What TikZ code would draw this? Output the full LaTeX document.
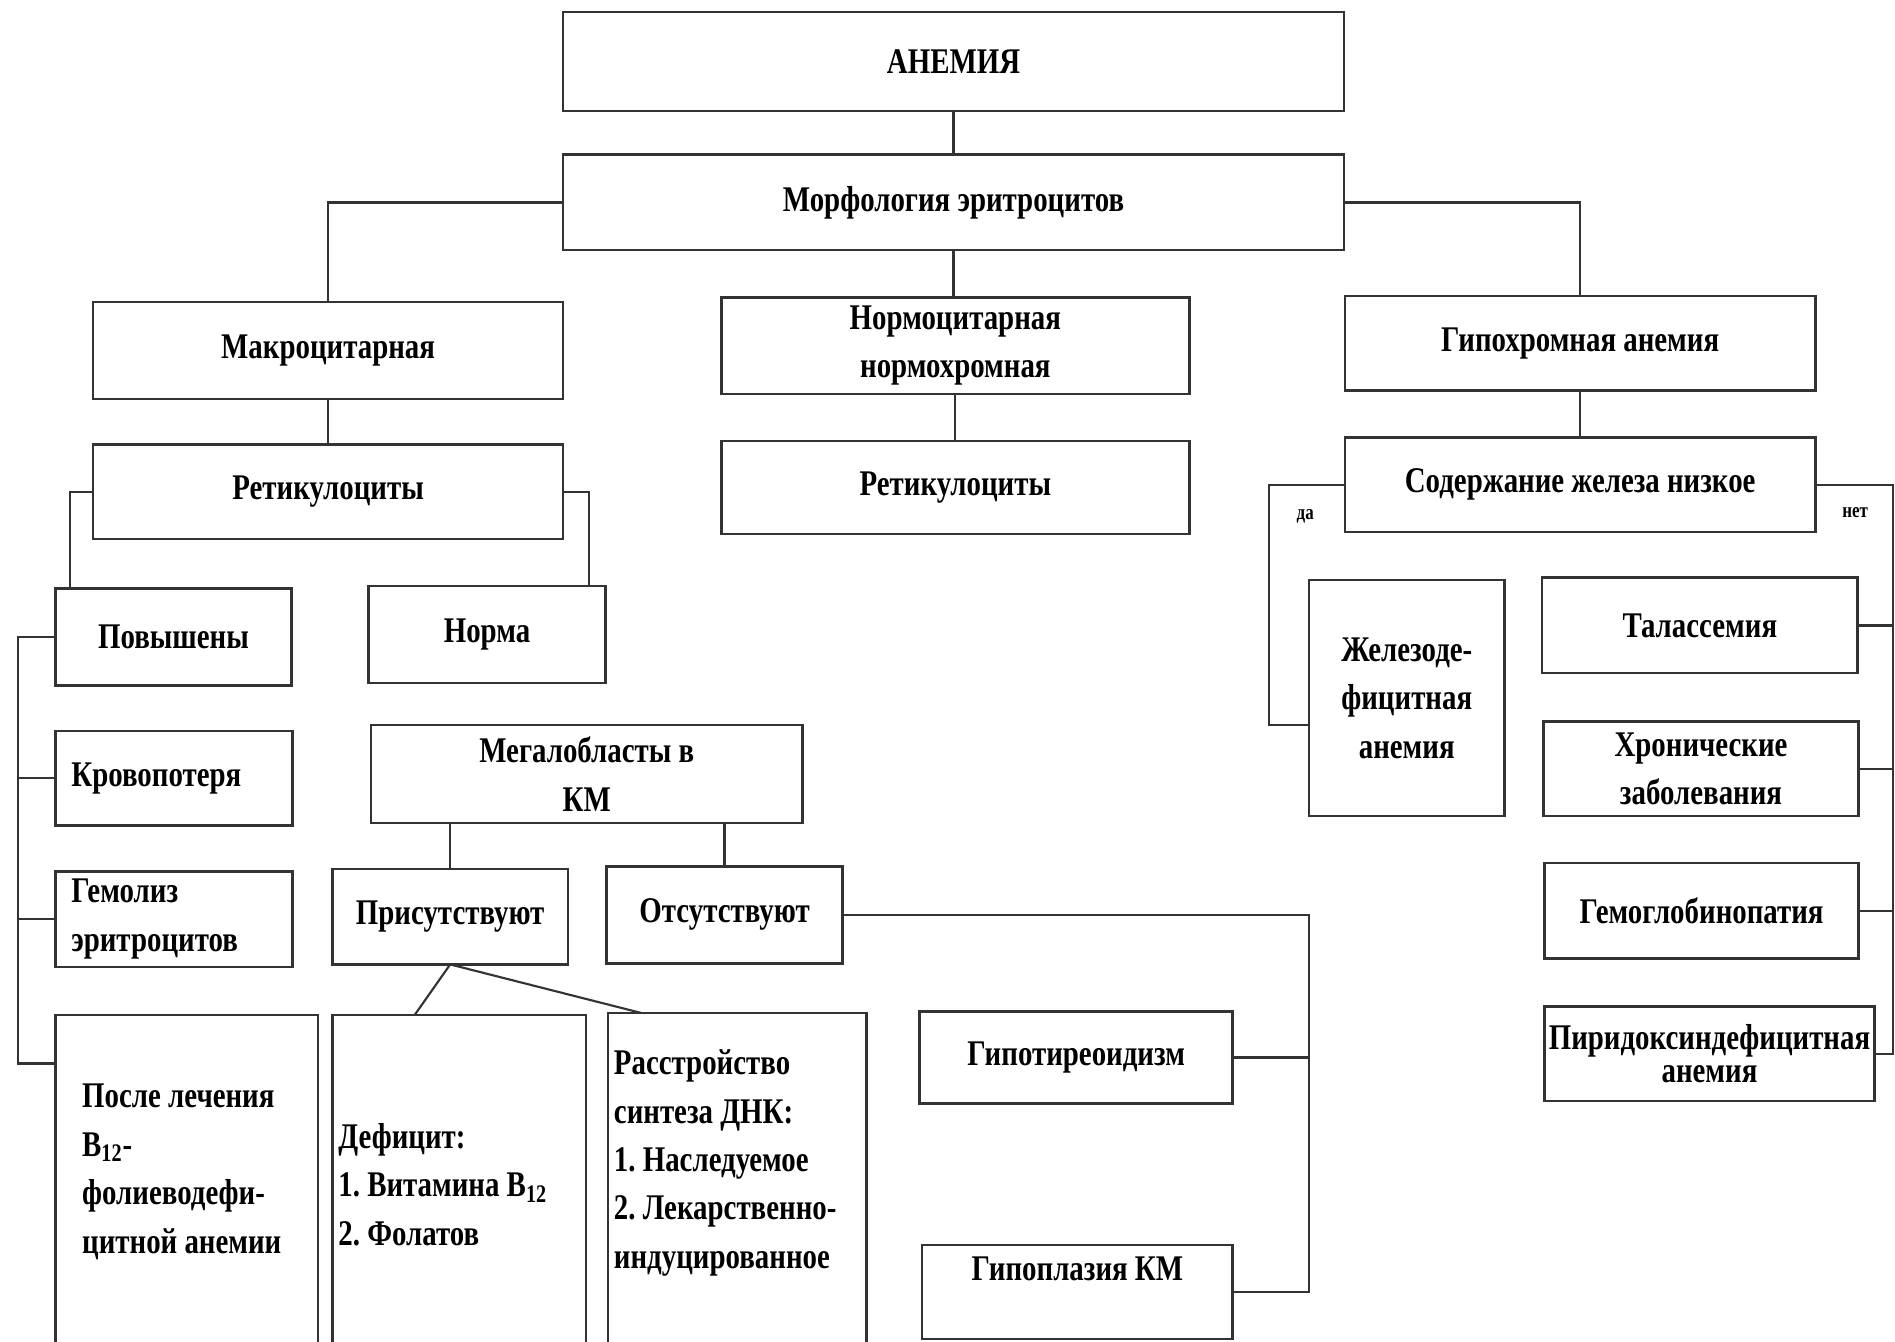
\documentclass[tikz,border=0pt]{standalone}
\usepackage{fontspec}
\setmainfont[FakeStretch=0.8]{Liberation Serif}
\usetikzlibrary{calc}
\begin{document}
\begin{tikzpicture}[x=0.02cm,y=-0.02cm,
  box/.style={draw=black!80, line width=1.2pt, inner sep=2pt, outer sep=0pt,
    anchor=north west, align=center, font=\fontsize{17}{22.8}\selectfont\bfseries\frenchspacing},
  wh/.style 2 args={minimum width=#1*0.02cm, minimum height=#2*0.02cm},
  con/.style={draw=black!80, line width=1pt},
  small/.style={font=\fontsize{10}{12}\selectfont\bfseries, inner sep=1pt}]
\useasboundingbox (0,0) rectangle (1568,1110);

% top level
\node[box, wh={646}{82}] (anem) at (466,10) {АНЕМИЯ};
\node[box, wh={646}{79}] (morf) at (466,128) {Морфология эритроцитов};

% second level
\node[box, wh={389}{80}] (makro) at (77,250) {Макроцитарная};
\node[box, wh={387}{80}] (normo) at (597,246) {Нормоцитарная\\нормохромная};
\node[box, wh={389}{78}] (gipo) at (1113,245) {Гипохромная анемия};

% third level
\node[box, wh={389}{78}] (retL) at (77,368) {Ретикулоциты};
\node[box, wh={387}{77}] (retM) at (597,365) {Ретикулоциты};
\node[box, wh={389}{78}] (sod) at (1113,362) {Содержание железа низкое};

% left branch
\node[box, wh={195}{80}] (pov) at (46,487) {Повышены};
\node[box, wh={196}{80}] (norma) at (305,485) {Норма};
\node[box, wh={196}{78}, align=flush left, text width=3.4cm] (krov) at (46,605) {Кровопотеря};
\node[box, wh={357}{81}] (megalo) at (307,600) {Мегалобласты в\\КМ};
\node[box, wh={196}{79}, align=flush left, text width=3.4cm] (gemol) at (46,721) {Гемолиз\\эритроцитов};
\node[box, wh={195}{79}] (pris) at (275,719) {Присутствуют};
\node[box, wh={195}{80}] (ots) at (502,717) {Отсутствуют};
\node[box, wh={217}{280}, align=flush left, text width=3.46cm] (posle) at (46,840)
  {После лечения\\B\textsubscript{12}-\\фолиеводефи-\\цитной анемии\rule[-0.52cm]{0pt}{0.52cm}};
\node[box, wh={210}{280}, align=flush left, text width=4.0cm] (def) at (275,840)
  {Дефицит:\\1. Витамина B\textsubscript{12}\\2. Фолатов};
\node[box, wh={214}{282}, align=flush left, text width=4.08cm] (rasst) at (503,838)
  {Расстройство\\синтеза ДНК:\\1. Наследуемое\\2. Лекарственно-\\индуцированное\rule[-0.8cm]{0pt}{0.8cm}};
\node[box, wh={259}{76}] (gipot) at (761,837) {Гипотиреоидизм};
\node[box, wh={257}{78}] (gipopl) at (763,1030) {Гипоплазия КМ\rule[-0.76cm]{0pt}{0.76cm}};

% right branch
\node[box, wh={162}{195}] (zhel) at (1083,480) {Железоде-\\фицитная\\анемия};
\node[box, wh={261}{79}] (tal) at (1276,478) {Талассемия};
\node[box, wh={261}{78}] (hron) at (1277,597) {Хронические\\заболевания};
\node[box, wh={260}{79}] (gemogl) at (1278,714) {Гемоглобинопатия};
\node[box, wh={260}{78}] (pirid) at (1278,833) {Пиридоксиндефицитная\\[-7pt]анемия};

\node[small] (da) at (1080,427) {да};
\node[small] (net) at (1535,424) {нет};

% helper coordinates
\coordinate (bt) at (15,528);
\coordinate (rv) at (1083,0);
\coordinate (lv) at (1050,0);
\coordinate (rr) at (1566,0);

% connectors
\draw[con] (anem.south) -- (morf.north);
\draw[con] (morf.west) -| (makro.north);
\draw[con] (morf.south) -- (morf.south |- normo.north);
\draw[con] (morf.east) -| (gipo.north);
\draw[con] (makro.south) -- (retL.north);
\draw[con] (normo.south) -- (retM.north);
\draw[con] (gipo.south) -- (sod.north);

\draw[con] (retL.west) -| ([xshift=0.24cm]pov.north west);
\draw[con] (retL.east) -| ([xshift=-0.28cm]norma.north east);

\draw[con] (pov.west) -- (pov.west -| bt) -- ([yshift=-0.8cm]posle.north west -| bt) -- ([yshift=-0.8cm]posle.north west);
\draw[con] (krov.west -| bt) -- (krov.west);
\draw[con] (gemol.west -| bt) -- (gemol.west);

\draw[con] (pris.north) -- (pris.north |- megalo.south);
\draw[con] (ots.north) -- (ots.north |- megalo.south);
\draw[con] (pris.south) -- ([xshift=1.36cm]def.north west);
\draw[con] (pris.south) -- ([xshift=0.54cm]rasst.north west);

\draw[con] (ots.east) -| (gipopl.east -| rv) -- (gipopl.east);
\draw[con] (gipot.east) -- (gipot.east -| rv);

\draw[con] (sod.west) -| ([yshift=-0.45cm]zhel.west -| lv) -- ([yshift=-0.45cm]zhel.west);
\draw[con] (sod.east) -| (pirid.east -| rr) -- (pirid.east);
\draw[con] (tal.east) -- (tal.east -| rr);
\draw[con] (hron.east) -- (hron.east -| rr);
\draw[con] (gemogl.east) -- (gemogl.east -| rr);
\end{tikzpicture}
\end{document}
